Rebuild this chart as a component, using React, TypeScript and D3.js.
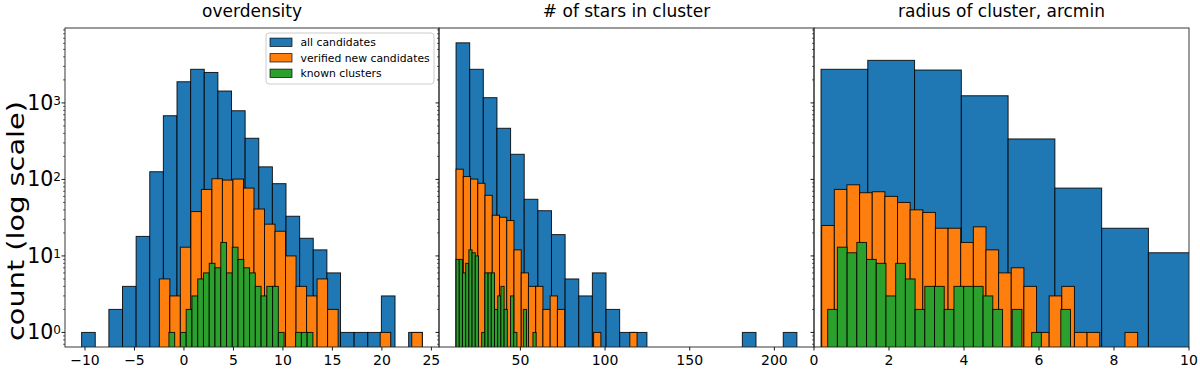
import React from "react";
import * as d3 from "d3";

// ---------- data (histogram counts) ----------
const seriesNames = ["all candidates", "verified new candidates", "known clusters"];
const seriesColors = ["#1f77b4", "#ff7f0e", "#2ca02c"];
const panelTitles = ["overdensity", "# of stars in cluster", "radius of cluster, arcmin"];

// panel 1: overdensity
const overdensityAll = [1, 0, 2, 4, 18, 126, 680, 1890, 2750, 2500, 1430, 790, 345, 146, 88, 33, 17, 12, 6, 1, 1, 1, 3, 0, 1];
const overdensityAllRange: [number, number] = [-10.34, 24.08];
const overdensityVerified = [5, 3, 13, 38, 74, 102, 98, 101, 77, 41, 26, 21, 10, 4, 3, 5, 2, 0, 0, 0, 0, 1, 0, 0, 1];
const overdensityVerifiedRange: [number, number] = [-2.49, 24.08];
const overdensityKnown = [1, 0, 1, 2, 3, 5, 6, 8, 7, 15, 6, 13, 9, 7, 6, 4, 3, 4, 4, 1, 0, 0, 1, 1, 1];
const overdensityKnownRange: [number, number] = [-1.52, 13.03];
const overdensityTicks = [-10, -5, 0, 5, 10, 15, 20, 25];

// panel 2: number of stars
const starsAll = [6100, 2750, 1170, 466, 213, 55, 39, 19, 5, 3, 6, 2, 1, 1, 0, 0, 0, 0, 0, 0, 0, 1, 0, 0, 1];
const starsAllRange: [number, number] = [12.0, 213.3];
const starsVerified = [136, 109, 101, 89, 62, 34, 32, 29, 12, 6, 4, 4, 2, 3, 2, 0, 0, 0, 0, 1, 0, 0, 0, 0, 1];
const starsVerifiedRange: [number, number] = [12.0, 118.9];
const starsKnown = [9, 9, 6, 8, 12, 11, 10, 0, 1, 6, 6, 6, 2, 3, 4, 2, 0, 3, 1, 0, 0, 2, 0, 0, 1];
const starsKnownRange: [number, number] = [12.0, 59.3];
const starsTicks = [50, 100, 150, 200];

// panel 3: radius
const radiusAll = [2750, 3600, 2690, 1240, 338, 77, 23, 11];
const radiusAllRange: [number, number] = [0.187, 10.165];
const radiusVerified = [25, 74, 85, 67, 69, 60, 50, 40, 37, 23, 23, 15, 24, 12, 6, 7, 4, 1, 3, 4, 1, 1, 0, 0, 1];
const radiusVerifiedRange: [number, number] = [0.205, 8.63];
const radiusKnown = [2, 13, 11, 15, 9, 8, 3, 8, 5, 2, 4, 4, 2, 4, 4, 4, 3, 2, 0, 2, 0, 1, 0, 0, 2];
const radiusKnownRange: [number, number] = [0.365, 6.84];
const radiusTicks = [0, 2, 4, 6, 8, 10];

const yTickValues = [1, 10, 100, 1000];
const yTickExps = ["0", "1", "2", "3"];

// ---------- layout ----------
const W = 1200;
const H = 369;
const TOP = 28;
const BOTTOM = 347;

type Hist = { counts: number[]; range: [number, number] };

const panels = [
  {
    title: panelTitles[0],
    x: [65, 439],
    domain: [-12.02, 25.77],
    ticks: overdensityTicks,
    hists: [
      { counts: overdensityAll, range: overdensityAllRange },
      { counts: overdensityVerified, range: overdensityVerifiedRange },
      { counts: overdensityKnown, range: overdensityKnownRange },
    ] as Hist[],
  },
  {
    title: panelTitles[1],
    x: [439, 814],
    domain: [1.93, 223.4],
    ticks: starsTicks,
    hists: [
      { counts: starsAll, range: starsAllRange },
      { counts: starsVerified, range: starsVerifiedRange },
      { counts: starsKnown, range: starsKnownRange },
    ] as Hist[],
  },
  {
    title: panelTitles[2],
    x: [814, 1189],
    domain: [0, 10],
    ticks: radiusTicks,
    hists: [
      { counts: radiusAll, range: radiusAllRange },
      { counts: radiusVerified, range: radiusVerifiedRange },
      { counts: radiusKnown, range: radiusKnownRange },
    ] as Hist[],
  },
];

const FONT = "'DejaVu Sans', sans-serif";

function toBins(h: Hist) {
  const w = (h.range[1] - h.range[0]) / h.counts.length;
  return h.counts.map((c, i) => ({ x0: h.range[0] + i * w, x1: h.range[0] + (i + 1) * w, c }));
}

const fmt = (v: number) => (v < 0 ? "\u2212" + Math.abs(v) : String(v));

export default function App() {
  const y = d3.scaleLog().domain([0.645, 9530]).range([BOTTOM, TOP]);
  const minorTicks: number[] = [];
  for (let e = -1; e <= 3; e++) {
    for (let m = 2; m <= 9; m++) {
      const v = m * Math.pow(10, e);
      if (v > 0.645 && v < 9530) minorTicks.push(v);
    }
  }

  return (
    <svg
      width={W}
      height={H}
      style={{ position: "absolute", left: 0, top: 0, background: "#fff" }}
      fontFamily={FONT}
    >
      <defs>
        {panels.map((p, pi) => (
          <clipPath id={`clip${pi}`} key={pi}>
            <rect x={p.x[0]} y={TOP} width={p.x[1] - p.x[0]} height={BOTTOM - TOP} />
          </clipPath>
        ))}
      </defs>

      {panels.map((p, pi) => {
        const x = d3.scaleLinear().domain(p.domain).range(p.x);
        return (
          <g key={pi}>
            <g clipPath={`url(#clip${pi})`}>
              {p.hists.map((h, hi) =>
                toBins(h)
                  .filter((b) => b.c > 0)
                  .map((b, bi) => (
                    <rect
                      key={`${hi}-${bi}`}
                      x={x(b.x0)}
                      y={y(b.c)}
                      width={x(b.x1) - x(b.x0)}
                      height={BOTTOM + 2 - y(b.c)}
                      fill={seriesColors[hi]}
                      stroke="#000"
                      strokeOpacity={0.85}
                      strokeWidth={1}
                    />
                  ))
              )}
            </g>
            {/* frame */}
            <rect
              x={p.x[0]}
              y={TOP}
              width={p.x[1] - p.x[0]}
              height={BOTTOM - TOP}
              fill="none"
              stroke="#222"
              strokeWidth={0.9}
            />
            {/* title */}
            <text
              x={(p.x[0] + p.x[1]) / 2}
              y={17}
              textAnchor="middle"
              fontSize={17}
              fill="#000"
            >
              {p.title}
            </text>
            {/* x ticks */}
            {p.ticks.map((t) => (
              <g key={t}>
                <line x1={x(t)} x2={x(t)} y1={BOTTOM} y2={BOTTOM + 3.5} stroke="#000" strokeWidth={0.9} />
                <text x={x(t)} y={365} textAnchor="middle" fontSize={14} fill="#000">
                  {fmt(t)}
                </text>
              </g>
            ))}
            {/* y ticks (left side of every panel) */}
            {yTickValues.map((v) => (
              <line key={v} x1={p.x[0] - 3.5} x2={p.x[0]} y1={y(v)} y2={y(v)} stroke="#000" strokeWidth={0.9} />
            ))}
            {minorTicks.map((v) => (
              <line key={`m${v}`} x1={p.x[0] - 2} x2={p.x[0]} y1={y(v)} y2={y(v)} stroke="#000" strokeWidth={0.6} />
            ))}
          </g>
        );
      })}

      {/* y tick labels */}
      {yTickValues.map((v, i) => (
        <text key={v} x={61} y={y(v) + 7} textAnchor="end" fontSize={20.5} fill="#000">
          10
          <tspan fontSize={12} dy={-5}>
            {yTickExps[i]}
          </tspan>
        </text>
      ))}

      {/* y axis label */}
      <text
        transform={`translate(24, 221) rotate(-90)`}
        textAnchor="middle"
        fontSize={23}
        textLength={240}
        lengthAdjust="spacingAndGlyphs"
        fill="#000"
      >
        count (log scale)
      </text>

      {/* legend */}
      <g>
        <rect x={266} y={33} width={168} height={51} rx={3} fill="#fff" fillOpacity={0.8} stroke="#ccc" strokeWidth={1} />
        {seriesNames.map((n, i) => {
          const cy = 42.3 + i * 15.5;
          return (
            <g key={n}>
              <rect x={270} y={cy - 4.2} width={22} height={8.4} fill={seriesColors[i]} stroke="#000" strokeOpacity={0.85} strokeWidth={0.8} />
              <text x={300.5} y={cy + 3.8} fontSize={10.8} fill="#000">
                {n}
              </text>
            </g>
          );
        })}
      </g>
    </svg>
  );
}
